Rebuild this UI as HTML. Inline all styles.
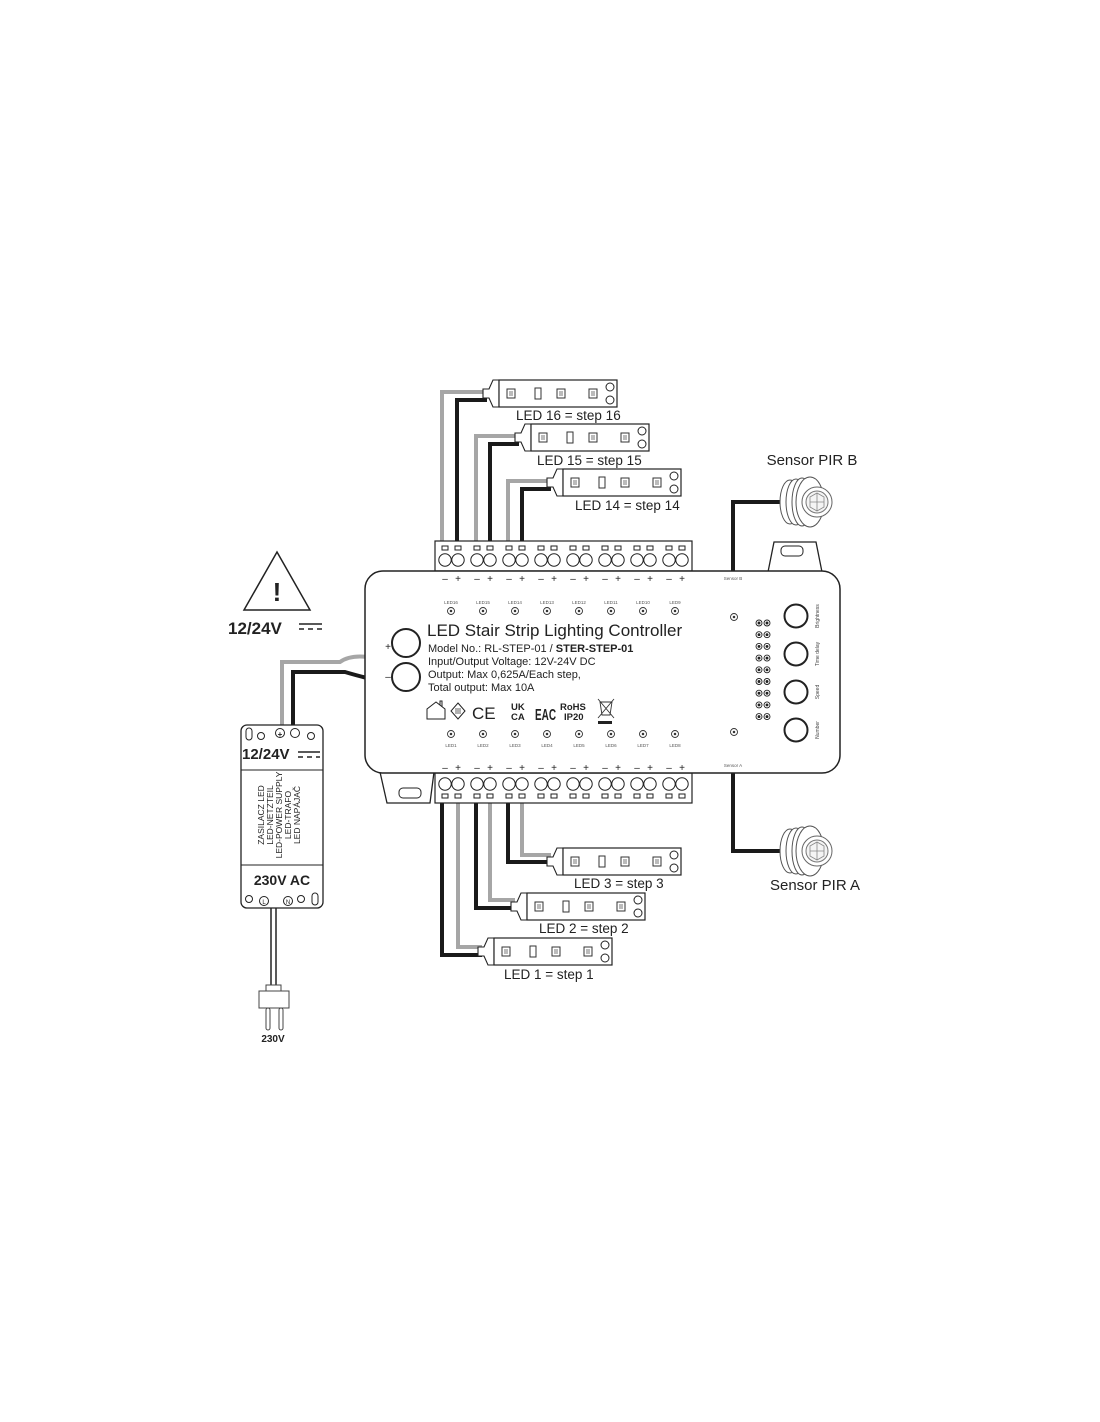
<!DOCTYPE html>
<html><head><meta charset="utf-8"><style>
html,body{margin:0;padding:0;background:#fff;}
svg{display:block;font-family:"Liberation Sans",sans-serif;}
</style></head><body>
<svg width="1100" height="1422" viewBox="0 0 1100 1422" xmlns="http://www.w3.org/2000/svg">
<defs>
<g id="strip">
  <rect x="0" y="0" width="118" height="27" fill="#fff" stroke="#222" stroke-width="1.2"/>
  <rect x="8" y="9" width="8" height="9" fill="#fff" stroke="#333"/><rect x="10" y="11" width="4" height="5" fill="#bbb"/>
  <rect x="36" y="8" width="6" height="11" fill="#fff" stroke="#333"/>
  <rect x="58" y="9" width="8" height="9" fill="#fff" stroke="#333"/><rect x="60" y="11" width="4" height="5" fill="#bbb"/>
  <rect x="90" y="9" width="8" height="9" fill="#fff" stroke="#333"/><rect x="92" y="11" width="4" height="5" fill="#bbb"/>
  <circle cx="111" cy="7" r="4" fill="#fff" stroke="#222"/>
  <circle cx="111" cy="20" r="4" fill="#fff" stroke="#222"/>
</g>
<g id="conn">
  <path d="M0,9 L6,9 L10,0 L16,0 L16,27 L10,27 L6,18 L0,18 Z" fill="#fff" stroke="#222" stroke-width="1.1"/>
</g>
<g id="pir">
  <ellipse cx="0" cy="25" rx="10" ry="22" fill="#fff" stroke="#555"/>
  <ellipse cx="6" cy="25" rx="10" ry="23" fill="#fff" stroke="#555"/>
  <ellipse cx="12" cy="25" rx="10" ry="24" fill="#fff" stroke="#555"/>
  <ellipse cx="20" cy="25" rx="14" ry="25" fill="#fff" stroke="#555"/>
  <circle cx="27" cy="25" r="15" fill="#fff" stroke="#666"/>
  <circle cx="27" cy="25" r="11" fill="#f4f4f4" stroke="#777"/>
  <path d="M20,20 L27,16 L34,20 L34,30 L27,34 L20,30 Z M27,16 L27,34 M20,25 L34,25" fill="none" stroke="#888" stroke-width="0.8"/>
</g>
</defs>

<g fill="none" stroke-width="4">
  <polyline points="442,541 442,392 487,392" stroke="#a6a6a6"/>
  <polyline points="457,541 457,400 487,400" stroke="#1a1a1a"/>
  <polyline points="476,541 476,436 519,436" stroke="#a6a6a6"/>
  <polyline points="490,541 490,444 519,444" stroke="#1a1a1a"/>
  <polyline points="508,541 508,481 551,481" stroke="#a6a6a6"/>
  <polyline points="522,541 522,489 551,489" stroke="#1a1a1a"/>
  <polyline points="508,803 508,862 551,862" stroke="#1a1a1a"/>
  <polyline points="522,803 522,855 551,855" stroke="#a6a6a6"/>
  <polyline points="476,803 476,908 515,908" stroke="#1a1a1a"/>
  <polyline points="490,803 490,900 515,900" stroke="#a6a6a6"/>
  <polyline points="442,803 442,955 482,955" stroke="#1a1a1a"/>
  <polyline points="458,803 458,947 482,947" stroke="#a6a6a6"/>
  <polyline points="733,571 733,502 780,502" stroke="#1a1a1a"/>
  <polyline points="733,773 733,851 780,851" stroke="#1a1a1a"/>
  <path d="M282,725 L282,662 L340,662 Q350,655 367,657" stroke="#a6a6a6"/>
  <path d="M293,725 L293,672 L345,672 Q355,675 367,678" stroke="#1a1a1a"/>
</g>

<use href="#conn" x="483" y="380"/><use href="#strip" x="499" y="380"/>
<text x="516" y="420" font-size="13.5" fill="#222">LED 16 = step 16</text>
<use href="#conn" x="515" y="424"/><use href="#strip" x="531" y="424"/>
<text x="537" y="465" font-size="13.5" fill="#222">LED 15 = step 15</text>
<use href="#conn" x="547" y="469"/><use href="#strip" x="563" y="469"/>
<text x="575" y="510" font-size="13.5" fill="#222">LED 14 = step 14</text>

<use href="#conn" x="547" y="848"/><use href="#strip" x="563" y="848"/>
<text x="574" y="888" font-size="13.5" fill="#222">LED 3 = step 3</text>
<use href="#conn" x="511" y="893"/><use href="#strip" x="527" y="893"/>
<text x="539" y="933" font-size="13.5" fill="#222">LED 2 = step 2</text>
<use href="#conn" x="478" y="938"/><use href="#strip" x="494" y="938"/>
<text x="504" y="979" font-size="13.5" fill="#222">LED 1 = step 1</text>

<use href="#pir" x="790" y="477"/>
<text x="812" y="465" font-size="15" text-anchor="middle" fill="#222">Sensor PIR B</text>
<use href="#pir" x="790" y="826"/>
<text x="815" y="890" font-size="15" text-anchor="middle" fill="#222">Sensor PIR A</text>

<path d="M768,572 L774,542 L816,542 L822,572" fill="#fff" stroke="#222" stroke-width="1.3"/>
<rect x="781" y="546" width="22" height="10" rx="4" fill="#fff" stroke="#222"/>
<path d="M380,772 L387,803 L430,803 L434,772" fill="#fff" stroke="#222" stroke-width="1.3"/>
<rect x="399" y="788" width="22" height="10" rx="4" fill="#fff" stroke="#222"/>

<rect x="435" y="541" width="257" height="30" fill="#fff" stroke="#222" stroke-width="1.2"/>
<rect x="435" y="773" width="257" height="30" fill="#fff" stroke="#222" stroke-width="1.2"/>
<g fill="#fff" stroke="#222" stroke-width="1">
<g id="tp">
<rect x="442" y="546" width="6" height="4"/><rect x="455" y="546" width="6" height="4"/>
<circle cx="445" cy="560" r="6.2"/><circle cx="458" cy="560" r="6.2"/>
</g>
<use href="#tp" x="32"/><use href="#tp" x="64"/><use href="#tp" x="96"/><use href="#tp" x="128"/><use href="#tp" x="160"/><use href="#tp" x="192"/><use href="#tp" x="224"/>
<g id="bp">
<rect x="442" y="794" width="6" height="4"/><rect x="455" y="794" width="6" height="4"/>
<circle cx="445" cy="784" r="6.2"/><circle cx="458" cy="784" r="6.2"/>
</g>
<use href="#bp" x="32"/><use href="#bp" x="64"/><use href="#bp" x="96"/><use href="#bp" x="128"/><use href="#bp" x="160"/><use href="#bp" x="192"/><use href="#bp" x="224"/>
</g>

<rect x="365" y="571" width="475" height="202" rx="18" fill="#fff" stroke="#222" stroke-width="1.5"/>

<g font-size="10" fill="#222" text-anchor="middle">
<text x="445" y="582">–</text><text x="458" y="582">+</text>
<text x="477" y="582">–</text><text x="490" y="582">+</text>
<text x="509" y="582">–</text><text x="522" y="582">+</text>
<text x="541" y="582">–</text><text x="554" y="582">+</text>
<text x="573" y="582">–</text><text x="586" y="582">+</text>
<text x="605" y="582">–</text><text x="618" y="582">+</text>
<text x="637" y="582">–</text><text x="650" y="582">+</text>
<text x="669" y="582">–</text><text x="682" y="582">+</text>
<text x="445" y="771">–</text><text x="458" y="771">+</text>
<text x="477" y="771">–</text><text x="490" y="771">+</text>
<text x="509" y="771">–</text><text x="522" y="771">+</text>
<text x="541" y="771">–</text><text x="554" y="771">+</text>
<text x="573" y="771">–</text><text x="586" y="771">+</text>
<text x="605" y="771">–</text><text x="618" y="771">+</text>
<text x="637" y="771">–</text><text x="650" y="771">+</text>
<text x="669" y="771">–</text><text x="682" y="771">+</text>
</g>
<g font-size="4.5" fill="#555" text-anchor="middle">
<text x="451" y="604">LED16</text><text x="483" y="604">LED15</text><text x="515" y="604">LED14</text><text x="547" y="604">LED13</text><text x="579" y="604">LED12</text><text x="611" y="604">LED11</text><text x="643" y="604">LED10</text><text x="675" y="604">LED9</text>
<text x="451" y="747">LED1</text><text x="483" y="747">LED2</text><text x="515" y="747">LED3</text><text x="547" y="747">LED4</text><text x="579" y="747">LED5</text><text x="611" y="747">LED6</text><text x="643" y="747">LED7</text><text x="675" y="747">LED8</text>
<text x="733" y="580">Sensor B</text><text x="733" y="767">Sensor A</text>
</g>
<g fill="#fff" stroke="#333" stroke-width="0.9">
<g id="ld"><circle cx="451" cy="611" r="3.5"/><circle cx="451" cy="611" r="0.8" fill="#333"/></g>
<use href="#ld" x="32"/><use href="#ld" x="64"/><use href="#ld" x="96"/><use href="#ld" x="128"/><use href="#ld" x="160"/><use href="#ld" x="192"/><use href="#ld" x="224"/>
<use href="#ld" y="123"/><use href="#ld" x="32" y="123"/><use href="#ld" x="64" y="123"/><use href="#ld" x="96" y="123"/><use href="#ld" x="128" y="123"/><use href="#ld" x="160" y="123"/><use href="#ld" x="192" y="123"/><use href="#ld" x="224" y="123"/>
<use href="#ld" x="283" y="6"/><use href="#ld" x="283" y="121"/>
</g>
<g fill="#fff" stroke="#222" stroke-width="0.9">
<g id="dd"><circle cx="759" cy="623" r="3"/><circle cx="767" cy="623" r="3"/><circle cx="759" cy="623" r="1" fill="#222"/><circle cx="767" cy="623" r="1" fill="#222"/></g>
<use href="#dd" y="11.7"/><use href="#dd" y="23.4"/><use href="#dd" y="35.1"/><use href="#dd" y="46.8"/><use href="#dd" y="58.5"/><use href="#dd" y="70.2"/><use href="#dd" y="81.9"/><use href="#dd" y="93.6"/>
</g>
<g fill="#fff" stroke="#222" stroke-width="2">
<circle cx="796" cy="616" r="11.5"/><circle cx="796" cy="654" r="11.5"/><circle cx="796" cy="692" r="11.5"/><circle cx="796" cy="730" r="11.5"/>
<circle cx="406" cy="643" r="14"/><circle cx="406" cy="677" r="14"/>
</g>
<g font-size="5" fill="#444" text-anchor="middle">
<text transform="translate(819,616) rotate(-90)">Brightness</text>
<text transform="translate(819,654) rotate(-90)">Time delay</text>
<text transform="translate(819,692) rotate(-90)">Speed</text>
<text transform="translate(819,730) rotate(-90)">Number</text>
</g>
<text x="388" y="650" font-size="10" fill="#222" text-anchor="middle">+</text>
<text x="388" y="680" font-size="10" fill="#222" text-anchor="middle">–</text>

<text x="427" y="636" font-size="17" fill="#222">LED Stair Strip Lighting Controller</text>
<g font-size="11" fill="#222">
<text x="428" y="652">Model No.: RL-STEP-01 / <tspan font-weight="bold">STER-STEP-01</tspan></text>
<text x="428" y="665">Input/Output Voltage: 12V-24V DC</text>
<text x="428" y="678">Output: Max 0,625A/Each step,</text>
<text x="428" y="691">Total output: Max 10A</text>
</g>
<g fill="none" stroke="#222" stroke-width="1">
<path d="M427,719 L427,709 L436,702 L445,709 L445,719 Z M440,705 L440,701 L442,701 L442,707"/>
<path d="M458,703 L465,711 L458,719 L451,711 Z"/>
<path d="M456,708 L456,714 M458,708 L458,714 M460,708 L460,714" stroke-width="0.7"/>
</g>
<text x="472" y="719" font-size="17" fill="#222">CE</text>
<text x="511" y="710" font-size="9.5" font-weight="bold" fill="#222">UK</text>
<text x="511" y="720" font-size="9.5" font-weight="bold" fill="#222">CA</text>
<text x="535" y="720" font-size="16" font-weight="bold" fill="#222" textLength="21" lengthAdjust="spacingAndGlyphs">EAC</text>
<text x="560" y="710" font-size="9.5" font-weight="bold" fill="#222">RoHS</text>
<text x="564" y="720" font-size="9.5" font-weight="bold" fill="#222">IP20</text>
<g stroke="#333" fill="none" stroke-width="0.9">
<path d="M600,702 L602,715 L610,715 L612,702 Z M598,699 L614,718 M614,699 L598,718"/>
</g>
<rect x="598" y="721" width="14" height="3" fill="#222"/>

<path d="M277,552 L310,610 L244,610 Z" fill="#fff" stroke="#222" stroke-width="1.5"/>
<text x="277" y="601" font-size="26" font-weight="bold" text-anchor="middle" fill="#222">!</text>
<text x="228" y="634" font-size="17" font-weight="bold" fill="#222">12/24V</text>
<line x1="299" y1="624" x2="322" y2="624" stroke="#222" stroke-width="1.6"/>
<path d="M299,629 L304,629 M308,629 L313,629 M317,629 L322,629" stroke="#222" stroke-width="1.6"/>

<rect x="241" y="725" width="82" height="183" rx="6" fill="#fff" stroke="#222" stroke-width="1.3"/>
<line x1="241" y1="770" x2="323" y2="770" stroke="#222"/>
<line x1="241" y1="865" x2="323" y2="865" stroke="#222"/>
<g fill="#fff" stroke="#222" stroke-width="1">
<rect x="246" y="728" width="6" height="12" rx="3"/>
<circle cx="261" cy="736" r="3.5"/><circle cx="280" cy="733" r="4.5"/><circle cx="295" cy="733" r="4.5"/><circle cx="311" cy="736" r="3.5"/>
<circle cx="249" cy="899" r="3.5"/><circle cx="264" cy="901" r="4.5"/><circle cx="288" cy="901" r="4.5"/><circle cx="301" cy="899" r="3.5"/>
<rect x="312" y="893" width="6" height="12" rx="3"/>
</g>
<text x="280" y="737" font-size="8" font-weight="bold" text-anchor="middle" fill="#222">+</text>
<text x="264" y="904" font-size="6" text-anchor="middle" fill="#222">L</text>
<text x="288" y="904" font-size="6" text-anchor="middle" fill="#222">N</text>
<text x="242" y="759" font-size="15" font-weight="bold" fill="#222">12/24V</text>
<line x1="298" y1="752" x2="320" y2="752" stroke="#222" stroke-width="1.5"/>
<path d="M298,757 L303,757 M307,757 L312,757 M316,757 L320,757" stroke="#222" stroke-width="1.5"/>
<g font-size="8.5" fill="#222" text-anchor="middle">
<text transform="translate(264,815) rotate(-90)">ZASILACZ LED</text>
<text transform="translate(273,815) rotate(-90)">LED-NETZTEIL</text>
<text transform="translate(282,815) rotate(-90)">LED-POWER SUPPLY</text>
<text transform="translate(291,815) rotate(-90)">LED-TRAFO</text>
<text transform="translate(300,815) rotate(-90)">LED NAPÁJAČ</text>
</g>
<text x="282" y="885" font-size="14" font-weight="bold" text-anchor="middle" fill="#222">230V AC</text>
<line x1="271" y1="908" x2="271" y2="986" stroke="#222" stroke-width="1.5"/>
<line x1="276" y1="908" x2="276" y2="986" stroke="#222" stroke-width="1.5"/>
<rect x="266" y="985" width="15" height="7" fill="#fff" stroke="#444"/>
<rect x="259" y="991" width="30" height="17" fill="#fff" stroke="#444"/>
<rect x="266" y="1008" width="4" height="22" rx="2" fill="#fff" stroke="#444"/>
<rect x="279" y="1008" width="4" height="22" rx="2" fill="#fff" stroke="#444"/>
<text x="273" y="1042" font-size="10" font-weight="bold" text-anchor="middle" fill="#222">230V</text>
</svg>
</body></html>
